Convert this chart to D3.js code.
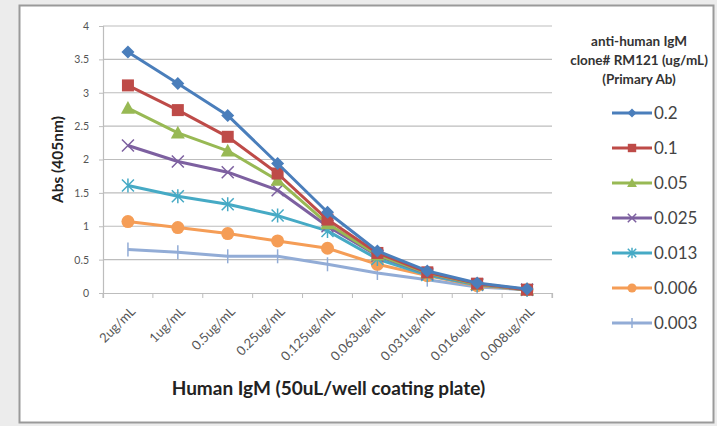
<!DOCTYPE html>
<html>
<head>
<meta charset="utf-8">
<script src="https://cdn.jsdelivr.net/npm/d3@7"></script>
<style>
  body { margin: 0; background: #ececec; }
  svg { display: block; font-family: Lato, "Open Sans", sans-serif; }
</style>
</head>
<body>
<div id="chart"></div>
<script>
// concentrations of coated human IgM
const categories = ["2ug/mL", "1ug/mL", "0.5ug/mL", "0.25ug/mL", "0.125ug/mL",
                    "0.063ug/mL", "0.031ug/mL", "0.016ug/mL", "0.008ug/mL"];
const seriesNames = ["0.2", "0.1", "0.05", "0.025", "0.013", "0.006", "0.003"];
const seriesColors = ["#4a7ebb", "#be4b48", "#98b954", "#7d60a0", "#46aac5", "#f59d56", "#92acd6"];
const seriesMarkers = ["diamond", "square", "triangle", "x", "star", "circle", "plus"];
const values = [
  [3.61, 3.14, 2.66, 1.94, 1.21, 0.63, 0.33, 0.15, 0.06],
  [3.11, 2.74, 2.34, 1.79, 1.10, 0.60, 0.31, 0.14, 0.05],
  [2.77, 2.40, 2.13, 1.69, 1.04, 0.57, 0.30, 0.13, 0.05],
  [2.21, 1.97, 1.81, 1.54, 1.00, 0.56, 0.29, 0.13, 0.05],
  [1.61, 1.45, 1.33, 1.16, 0.93, 0.51, 0.27, 0.12, 0.05],
  [1.07, 0.98, 0.89, 0.78, 0.67, 0.43, 0.26, 0.11, 0.05],
  [0.65, 0.61, 0.55, 0.55, 0.43, 0.30, 0.20, 0.09, 0.05]
];
const yTicks = [0, 0.5, 1, 1.5, 2, 2.5, 3, 3.5, 4];

const W = 717, H = 426;
const svg = d3.select("#chart").append("svg").attr("width", W).attr("height", H);

// outer chart frame
svg.append("rect")
  .attr("x", 19.5).attr("y", 5.5).attr("width", 694).attr("height", 417)
  .attr("fill", "#fff").attr("stroke", "#9a9a9a").attr("stroke-width", 2);

const plot = { left: 103, right: 552, top: 26, bottom: 293 };

const x = d3.scaleBand().domain(categories).range([plot.left, plot.right]);
const y = d3.scaleLinear().domain([0, 4]).range([plot.bottom, plot.top]);

// horizontal gridlines
svg.append("g")
  .selectAll("line").data(yTicks.filter(d => d > 0)).join("line")
  .attr("x1", plot.left).attr("x2", plot.right)
  .attr("y1", d => y(d)).attr("y2", d => y(d))
  .attr("stroke", "#bdbdbd").attr("stroke-width", 1.2);

// y axis
const yAxis = svg.append("g")
  .attr("transform", `translate(${plot.left},0)`)
  .call(d3.axisLeft(y).tickValues(yTicks).tickSize(4).tickPadding(10).tickFormat(d3.format("")));
yAxis.select(".domain").attr("stroke", "#bdbdbd").attr("stroke-width", 1.2);
yAxis.selectAll(".tick line").attr("stroke", "#bdbdbd");
yAxis.selectAll(".tick text").attr("fill", "#555").style("font-size", "10.5px")
  .style("font-family", "Lato, sans-serif");

// x axis
const xAxis = svg.append("g")
  .attr("transform", `translate(0,${plot.bottom})`)
  .call(d3.axisBottom(x).tickSize(5).tickSizeOuter(5));
xAxis.select(".domain").attr("stroke", "#bdbdbd").attr("stroke-width", 1.2);
xAxis.selectAll(".tick line")
  .attr("x1", -x.bandwidth() / 2).attr("x2", -x.bandwidth() / 2)
  .attr("stroke", "#bdbdbd");
svg.append("line")
  .attr("x1", plot.right).attr("x2", plot.right)
  .attr("y1", plot.bottom).attr("y2", plot.bottom + 5)
  .attr("stroke", "#bdbdbd");
xAxis.selectAll(".tick text")
  .attr("fill", "#555").style("font-size", "13px").style("font-family", "Lato, sans-serif")
  .attr("text-anchor", "end")
  .attr("dy", "0.35em")
  .attr("transform", "translate(5,16) rotate(-45)")
  .attr("y", 0).attr("x", 0);

// axis titles
svg.append("text")
  .attr("x", (plot.left + plot.right) / 2 + 1).attr("y", 395)
  .attr("text-anchor", "middle")
  .style("font-size", "19px").style("font-weight", "bold").attr("fill", "#222")
  .text("Human IgM (50uL/well coating plate)");
svg.append("text")
  .attr("transform", `translate(63,${(plot.top + plot.bottom) / 2}) rotate(-90)`)
  .attr("text-anchor", "middle")
  .style("font-size", "15.5px").style("font-weight", "bold").attr("fill", "#222")
  .text("Abs (405nm)");

// marker shapes, k scales the size
function marker(g, type, color, k) {
  if (type === "diamond") {
    const r = 6.5 * k;
    g.append("path").attr("d", `M0,${-r}L${r},0L0,${r}L${-r},0Z`).attr("fill", color);
  } else if (type === "square") {
    const r = 6 * k;
    g.append("rect").attr("x", -r).attr("y", -r).attr("width", 2 * r).attr("height", 2 * r)
      .attr("fill", color);
  } else if (type === "triangle") {
    const r = 7 * k;
    g.append("path").attr("d", `M0,${-r}L${r},${r * 0.8}L${-r},${r * 0.8}Z`).attr("fill", color);
  } else if (type === "circle") {
    g.append("circle").attr("r", 6.5 * k).attr("fill", color);
  } else if (type === "x") {
    const r = 6 * k;
    g.append("path").attr("d", `M${-r},${-r}L${r},${r}M${-r},${r}L${r},${-r}`)
      .attr("stroke", color).attr("stroke-width", 1.5);
  } else if (type === "star") {
    const r = 6 * k;
    g.append("path").attr("d", `M${-r},${-r}L${r},${r}M${-r},${r}L${r},${-r}M0,${-r - 1}L0,${r + 1}`)
      .attr("stroke", color).attr("stroke-width", 1.5);
  } else if (type === "plus") {
    const r = 7 * k;
    g.append("path").attr("d", `M0,${-r}L0,${r}`).attr("stroke", color).attr("stroke-width", 1.5);
  }
}

const line = d3.line()
  .x((d, i) => x(categories[i]) + x.bandwidth() / 2)
  .y(d => y(d));

// draw from last series to first so the 0.2 series ends up on top
for (let s = seriesNames.length - 1; s >= 0; s--) {
  const g = svg.append("g");
  g.append("path").datum(values[s])
    .attr("d", line).attr("fill", "none")
    .attr("stroke", seriesColors[s]).attr("stroke-width", 3).attr("stroke-linejoin", "round");
  values[s].forEach((v, i) => {
    const m = g.append("g")
      .attr("transform", `translate(${x(categories[i]) + x.bandwidth() / 2},${y(v)})`);
    marker(m, seriesMarkers[s], seriesColors[s], 1);
  });
}

// legend
const legend = svg.append("g");
const legendTitle = ["anti-human IgM", "clone# RM121 (ug/mL)", "(Primary Ab)"];
legend.selectAll("text.ttl").data(legendTitle).join("text")
  .attr("class", "ttl")
  .attr("x", 639).attr("y", (d, i) => 46 + i * 19)
  .attr("text-anchor", "middle")
  .style("font-size", "13.5px").style("font-weight", "bold").attr("fill", "#333")
  .text(d => d);

seriesNames.forEach((name, i) => {
  const ly = 113 + i * 35;
  const g = legend.append("g");
  g.append("line").attr("x1", 612).attr("x2", 652).attr("y1", ly).attr("y2", ly)
    .attr("stroke", seriesColors[i]).attr("stroke-width", 3);
  const m = g.append("g").attr("transform", `translate(632,${ly})`);
  marker(m, seriesMarkers[i], seriesColors[i], 0.7);
  g.append("text").attr("x", 654).attr("y", ly).attr("dy", "0.35em")
    .style("font-size", "17px").attr("fill", "#444").text(name);
});
</script>
</body>
</html>
